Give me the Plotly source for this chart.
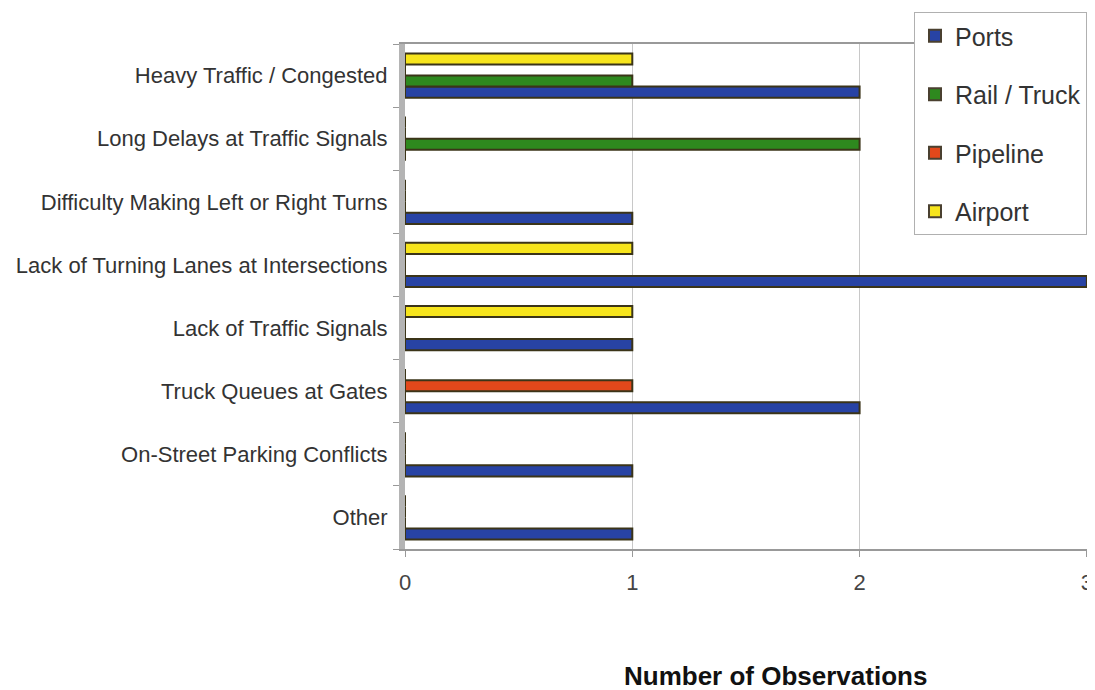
import plotly.graph_objects as go

# Categories listed bottom-to-top
categories = [
    "Other",
    "On-Street Parking Conflicts",
    "Truck Queues at Gates",
    "Lack of Traffic Signals",
    "Lack of Turning Lanes at Intersections",
    "Difficulty Making Left or Right Turns",
    "Long Delays at Traffic Signals",
    "Heavy Traffic / Congested",
]
ports = [1, 1, 2, 1, 3, 1, 0, 2]
rail_truck = [0, 0, 0, 0, 0, 0, 2, 1]
pipeline = [0, 0, 1, 0, 0, 0, 0, 0]
airport = [0, 0, 0, 1, 1, 0, 0, 1]
x_ticks = [0, 1, 2, 3]

series = [
    ("Ports", ports, "#2843a4"),
    ("Rail / Truck", rail_truck, "#2e891e"),
    ("Pipeline", pipeline, "#e2481b"),
    ("Airport", airport, "#f7e51c"),
]
outline = "#3b3418"

fig = go.Figure()
for name, vals, col in series:
    fig.add_trace(go.Bar(
        y=categories, x=vals, name=name, orientation="h",
        marker=dict(color=col, line=dict(color=outline, width=2)),
        showlegend=False,
    ))
# legend entries with larger square swatches
for name, vals, col in series:
    fig.add_trace(go.Scatter(
        x=[None], y=[None], mode="markers", name=name, legendgroup=name,
        marker=dict(symbol="square", size=16, color=col,
                    line=dict(color="#4a4030", width=1.5)),
    ))

# page has an 8px body margin; figure is sized to fit the visible window
W, H = 1079, 682
L, R, T, B = 397, 0, 36, 141
PW = W - L - R
PH = H - T - B
fig.update_layout(
    width=W, height=H,
    barmode="group", bargap=0.30, bargroupgap=0.0,
    plot_bgcolor="white", paper_bgcolor="white",
    margin=dict(l=L, r=R, t=T, b=B, autoexpand=False),
    font=dict(family="Liberation Sans, Arial, sans-serif", color="#333333"),
    showlegend=True,
    legend=dict(
        x=(914 - 405) / PW, y=(549 - 12) / PH,
        xanchor="left", yanchor="top",
        bgcolor="white", bordercolor="#b0b0b0", borderwidth=1,
        font=dict(size=25, color="#333333"),
        itemsizing="constant", tracegroupgap=23,
        traceorder="grouped", itemwidth=30,
    ),
    xaxis=dict(
        range=[0, 3.0005], tickvals=x_ticks, automargin=False,
        showgrid=True, gridcolor="#c8c8c8", gridwidth=1,
        showline=True, linecolor="#999999", linewidth=1.5, mirror=True,
        ticks="outside", ticklen=6, tickcolor="#999999",
        tickfont=dict(size=22, color="#444444"), ticklabelstandoff=7,
        ticklabeloverflow="allow",
        zeroline=False,
    ),
    yaxis=dict(
        automargin=False,
        showline=True, linecolor="#b4b4b4", linewidth=6,
        ticks="outside", ticklen=6, tickcolor="#999999", tickson="boundaries",
        tickfont=dict(size=22, color="#333333"), ticklabelstandoff=7,
        showgrid=False,
    ),
    annotations=[dict(
        text="<b>Number of Observations</b>", showarrow=False,
        xref="paper", yref="paper",
        x=(775 - 405) / PW, y=(549 - 676) / PH,
        xanchor="center", yanchor="middle",
        font=dict(size=26, color="#111111", family="Liberation Sans, Arial, sans-serif"),
    )],
)
fig.write_html("out.html")
